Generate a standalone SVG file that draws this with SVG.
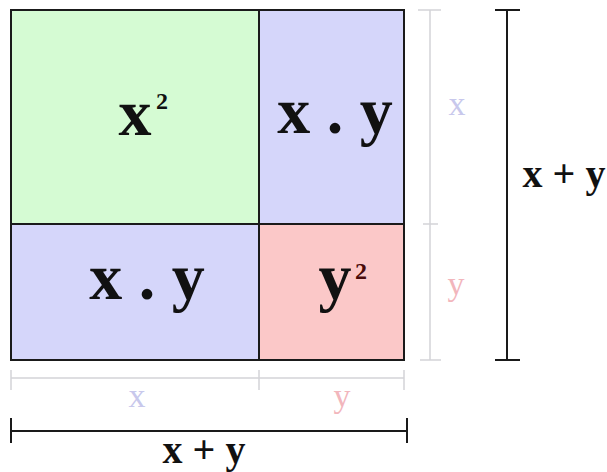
<svg xmlns="http://www.w3.org/2000/svg" width="607" height="472" viewBox="0 0 607 472">
<style>
.big{font-family:"Liberation Serif","Times New Roman",serif;font-weight:bold;font-size:66px;fill:#111}
.sup{font-family:"Liberation Serif","Times New Roman",serif;font-weight:bold;font-size:24px}
.lbl{font-family:"Liberation Serif","Times New Roman",serif;font-weight:bold;font-size:40px;fill:#111}
.lt{font-family:"Liberation Serif","Times New Roman",serif;font-size:34px}
.cell{stroke:#1a1a1a;stroke-width:2}
.light{stroke:#d4d4d8;stroke-width:1.5;fill:none}
.dark{stroke:#1a1a1a;stroke-width:2;fill:none}
</style>
<rect width="607" height="472" fill="#ffffff"/>
<g id="cell-x2">
<rect class="cell" x="11" y="10" width="248" height="214" fill="#d5fbd3"/>
<text class="big" x="135" y="135" text-anchor="middle">x</text>
<text class="sup" x="156" y="109" fill="#111">2</text>
</g>
<g id="cell-xy-top">
<rect class="cell" x="259" y="10" width="145" height="214" fill="#d5d6fa"/>
<text class="big" x="335" y="133" text-anchor="middle">x . y</text>
</g>
<g id="cell-xy-bottom">
<rect class="cell" x="11" y="224" width="248" height="136" fill="#d5d6fa"/>
<text class="big" x="147" y="299" text-anchor="middle">x . y</text>
</g>
<g id="cell-y2">
<rect class="cell" x="259" y="224" width="145" height="136" fill="#fbc8c8"/>
<text class="big" x="335" y="299" text-anchor="middle">y</text>
<text class="sup" x="355" y="279" fill="#4a0a0a">2</text>
</g>
<g id="connectors">
<path class="light" d="M11 378H404M11 370V390M259 370V390M404 370V390"/>
<path class="light" d="M430 10V360M418 10H441M423 224H438M420 360H441"/>
<path class="dark" d="M11 431H407M11 418V443M407 418V443"/>
<path class="dark" d="M507 10V360M495 10H520M495 360H520"/>
</g>
<g id="dim-labels">
<text class="lt" x="137" y="407" text-anchor="middle" fill="#c8c8ec">x</text>
<text class="lt" x="342" y="407" text-anchor="middle" fill="#f2b6bc">y</text>
<text class="lt" x="457" y="115" text-anchor="middle" fill="#c8c8ec">x</text>
<text class="lt" x="456" y="295" text-anchor="middle" fill="#f2b6bc">y</text>
<text class="lbl" x="564" y="187" text-anchor="middle">x + y</text>
<text class="lbl" x="204" y="463" text-anchor="middle">x + y</text>
</g>
</svg>
